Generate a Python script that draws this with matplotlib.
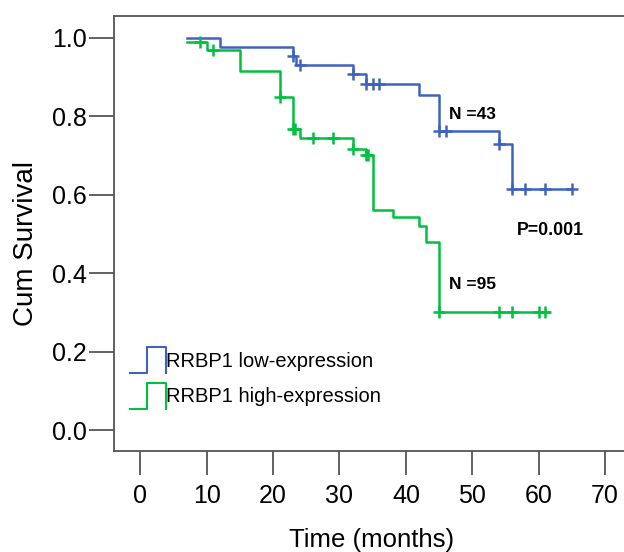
import matplotlib
matplotlib.use("Agg")
import matplotlib.pyplot as plt
from matplotlib.lines import Line2D
from matplotlib.legend_handler import HandlerBase

plt.rcParams['font.family'] = ['Liberation Sans', 'DejaVu Sans']

# Low-expression group (N=43): step times and survival values
low_t = [7, 12, 23, 23.5, 32, 34, 42, 45, 54, 56, 65]
low_s = [1.0, 0.977, 0.954, 0.931, 0.908, 0.882, 0.855, 0.763, 0.730, 0.615, 0.615]
low_cens_t = [23, 24, 32, 34, 35, 36, 45, 46, 54, 56, 58, 61, 65]

# High-expression group (N=95)
high_t = [7, 10, 15, 21, 23, 24, 32, 34, 35, 38, 42, 43, 45, 61.5]
high_s = [0.991, 0.969, 0.916, 0.849, 0.769, 0.746, 0.718, 0.702, 0.561, 0.543, 0.521, 0.480, 0.300, 0.300]
high_cens_t = [9, 11, 21, 23, 23.3, 26, 29, 32, 34, 34.3, 45, 54, 56, 60, 61]

x_ticks = [0, 10, 20, 30, 40, 50, 60, 70]
y_ticks = [0.0, 0.2, 0.4, 0.6, 0.8, 1.0]
labels = ["RRBP1 low-expression", "RRBP1 high-expression"]

BLUE = "#3F62C0"
GREEN = "#00C040"


def surv_at(ts, ss, t):
    v = ss[0]
    for ti, si in zip(ts, ss):
        if ti <= t:
            v = si
    return v


fig = plt.figure(figsize=(6.24, 5.52), dpi=100)
ax = fig.add_axes([114.5 / 624, 1 - 451 / 552, (640 - 114.5) / 624, (451 - 16) / 552])

px = 6.64
x0 = -(140.3 - 114.5) / px
x1 = x0 + (640 - 114.5) / px
ax.set_xlim(x0, x1)
ax.set_ylim(-21 / 392, 1 + 22 / 392)

ax.step(low_t, low_s, where='post', color=BLUE, lw=1.8)
ax.step(high_t, high_s, where='post', color=GREEN, lw=1.8)
ax.plot(low_cens_t, [surv_at(low_t, low_s, t) for t in low_cens_t], ls='none',
        marker='+', ms=9, mew=1.8, color=BLUE)
ax.plot(high_cens_t, [surv_at(high_t, high_s, t) for t in high_cens_t], ls='none',
        marker='+', ms=9, mew=1.8, color=GREEN)

for s in ax.spines.values():
    s.set_color('#555555')
    s.set_linewidth(1.3)

ax.set_xticks(x_ticks)
ax.set_yticks(y_ticks)
ax.set_yticklabels([f"{v:.1f}" for v in y_ticks])
ax.tick_params(axis='x', direction='out', length=17, width=1.3, color='#555555',
               labelsize=18, pad=7)
ax.tick_params(axis='y', direction='out', length=18, width=1.3, color='#555555',
               labelsize=18, pad=2)
ax.set_xlabel("Time (months)", fontsize=18.5, labelpad=14)
ax.set_ylabel("Cum Survival", fontsize=20, labelpad=9.5)
ax.xaxis.label.set_x(0.489)
ax.yaxis.label.set_y(0.476)

ax.text(46.5, 0.804, "N =43", fontsize=12.5, fontweight='bold', ha='left', va='center')
ax.text(46.5, 0.372, "N =95", fontsize=12.5, fontweight='bold', ha='left', va='center')
ax.text(56.7, 0.510, "P=0.001", fontsize=12.8, fontweight='bold', ha='left', va='center')


class StepHandler(HandlerBase):
    def create_artists(self, legend, orig_handle, xdescent, ydescent, width, height,
                       fontsize, trans):
        xa = -xdescent
        ya = -ydescent
        xm = xa + width * 0.49
        xs = [xa, xm, xm, xa + width, xa + width]
        ys = [ya, ya, ya + height, ya + height, ya]
        ln = Line2D(xs, ys, color=orig_handle.get_color(), lw=1.5, transform=trans)
        return [ln]


h1 = Line2D([], [], color=BLUE)
h2 = Line2D([], [], color=GREEN)
leg = ax.legend([h1, h2], labels, handler_map={Line2D: StepHandler()},
                loc='upper left', bbox_to_anchor=((129.5 - 114.5) / (640 - 114.5), 1 - (347 - 16) / 435),
                frameon=False, fontsize=14.5, handlelength=1.8, handleheight=1.6,
                handletextpad=0.03, labelspacing=0.5, borderaxespad=0, borderpad=0)

fig.savefig("out.png", dpi=100)
